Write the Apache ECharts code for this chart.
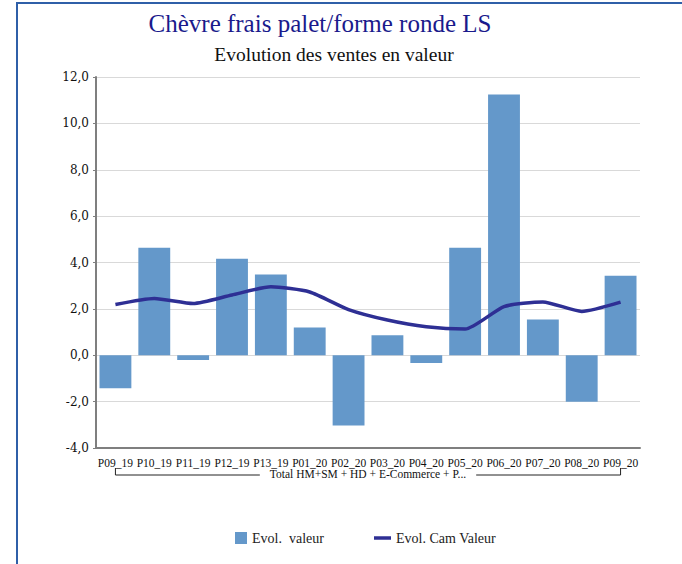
<!DOCTYPE html>
<html><head><meta charset="utf-8">
<script src="https://cdn.jsdelivr.net/npm/echarts@6/dist/echarts.min.js"></script>
<style>
html,body{margin:0;padding:0;background:#fff}
#wrap{position:relative;width:682px;height:564px}
#c{width:682px;height:564px}
#frame{position:absolute;left:16px;top:2px;right:0;bottom:0;border-left:2px solid #2f5fa8;border-top:2px solid #2f5fa8;pointer-events:none}
</style>
</head><body>
<div id="wrap"><div id="c"></div><div id="frame"></div></div>
<script>
const categories = ['P09_19','P10_19','P11_19','P12_19','P13_19','P01_20','P02_20','P03_20','P04_20','P05_20','P06_20','P07_20','P08_20','P09_20'];
const groupLabel = 'Total HM+SM + HD + E-Commerce + P...';
const evolValeur = [-1.42, 4.64, -0.21, 4.16, 3.48, 1.2, -3.03, 0.86, -0.33, 4.64, 11.24, 1.54, -2.0, 3.43];
const evolCam = [2.19, 2.45, 2.23, 2.6, 2.95, 2.73, 1.97, 1.52, 1.23, 1.13, 2.1, 2.3, 1.89, 2.29];
const seriesNames = ['Evol.  valeur', 'Evol. Cam Valeur'];
const titleText = 'Chèvre frais palet/forme ronde LS';
const subtitleText = 'Evolution des ventes en valeur';
const yMin = -4, yMax = 12, yStep = 2;

const serif = '"DejaVu Serif", serif';
const narrowSerif = '"Liberation Serif", serif';
const chart = echarts.init(document.getElementById('c'), null, {renderer: 'svg'});
const option = {
  animation: false,
  backgroundColor: '#fff',
  title: [
    {text: titleText, left: 315, top: 6, textAlign: 'center',
     textStyle: {fontFamily: narrowSerif, fontSize: 25, fontWeight: 'normal', color: '#1a1a8c'}},
    {text: subtitleText, left: 329, top: 39, textAlign: 'center',
     textStyle: {fontFamily: narrowSerif, fontSize: 19.5, fontWeight: 'normal', color: '#111'}}
  ],
  legend: [
    {data: [{name: seriesNames[0], icon: 'rect'}], left: 230, top: 526, itemWidth: 12, itemHeight: 12,
     textStyle: {fontFamily: narrowSerif, fontSize: 14, color: '#222'}},
    {data: [{name: seriesNames[1], icon: 'rect'}], left: 369, top: 526, itemWidth: 17, itemHeight: 3.5,
     textStyle: {fontFamily: narrowSerif, fontSize: 14, color: '#222'}}
  ],
  grid: {left: 96, right: 42, top: 77, bottom: 116, containLabel: false},
  xAxis: [
    {type: 'category', data: categories, position: 'bottom',
     axisLine: {onZero: false, lineStyle: {color: '#7f7f7f', width: 2}},
     axisTick: {show: false},
     axisLabel: {interval: 0, margin: 9, fontFamily: narrowSerif, fontSize: 11.5, color: '#111'}},
    {type: 'category', data: [groupLabel], position: 'bottom', offset: 11,
     axisLine: {show: false}, axisTick: {show: false},
     axisLabel: {interval: 0, margin: 9, fontFamily: narrowSerif, fontSize: 11.5, color: '#111'}}
  ],
  yAxis: {
    type: 'value', min: yMin, max: yMax, interval: yStep,
    axisLine: {show: true, lineStyle: {color: '#7f7f7f', width: 2}},
    axisTick: {show: true, length: 3, lineStyle: {color: '#7f7f7f'}},
    splitLine: {lineStyle: {color: '#d9d9d9', width: 1.2}},
    axisLabel: {margin: 7, fontFamily: serif, fontSize: 12, color: '#111',
      formatter: v => v.toFixed(1).replace('.', ',')}
  },
  series: [
    {name: seriesNames[0], type: 'bar', data: evolValeur, barCategoryGap: '18%',
     itemStyle: {color: '#6498ca'}},
    {name: seriesNames[1], type: 'line', data: evolCam, symbol: 'none', smooth: 0.2,
     lineStyle: {color: '#2e2f94', width: 3.5}, itemStyle: {color: '#2e2f94'}}
  ]
};
chart.setOption(option);

// bracket under the category labels, placed from the axis scale
const ctx = document.createElement('canvas').getContext('2d');
ctx.font = '11.5px "Liberation Serif"';
const tw = ctx.measureText(groupLabel).width;
const xa = chart.convertToPixel({xAxisIndex: 0}, categories[0]);
const xb = chart.convertToPixel({xAxisIndex: 0}, categories[categories.length - 1]);
const yBase = chart.convertToPixel({yAxisIndex: 0}, yMin) + 27;
const xc = chart.convertToPixel({xAxisIndex: 1}, groupLabel);
const gap = tw / 2 + 10;
const ls = {stroke: '#222', lineWidth: 1};
chart.setOption({graphic: [
  {type: 'polyline', shape: {points: [[xa, yBase - 7], [xa, yBase], [xc - gap, yBase]]}, style: ls},
  {type: 'polyline', shape: {points: [[xc + gap, yBase], [xb, yBase], [xb, yBase - 7]]}, style: ls}
]});
</script>
</body></html>
